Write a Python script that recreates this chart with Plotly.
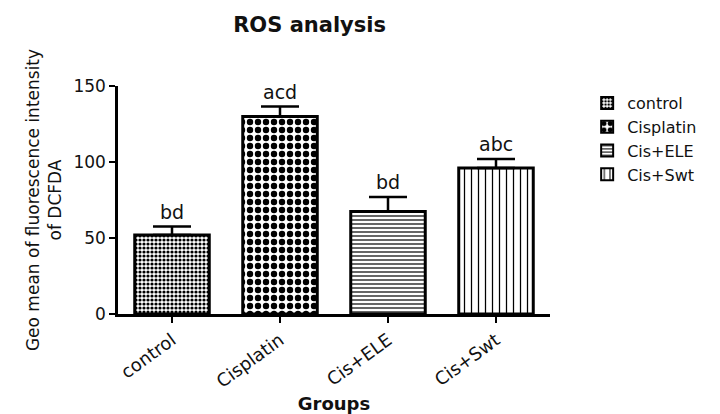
import plotly.graph_objects as go

# ROS analysis: geometric mean of DCFDA fluorescence per group
groups = ["control", "Cisplatin", "Cis+ELE", "Cis+Swt"]
geo_mean = [52, 130, 67.5, 96]
sem = [5.5, 6.5, 9.5, 6]
sig_letters = ["bd", "acd", "bd", "abc"]

# fill pattern per group (shape, cell size, solidity)
pattern_shape = [".", ".", "-", "|"]
pattern_size = [4, 8, 4, 7]
pattern_solidity = [0.5, 0.5, 0.3, 0.18]

FONT = "DejaVu Sans, Arial, sans-serif"
INK = "#111"

fig = go.Figure()
for i, g in enumerate(groups):
    fig.add_trace(go.Bar(
        x=[g], y=[geo_mean[i]], name=g,
        width=0.69,
        marker=dict(
            color="white",
            line=dict(color="black", width=3),
            pattern=dict(shape=pattern_shape[i], size=pattern_size[i],
                         solidity=pattern_solidity[i],
                         fgcolor="black", bgcolor="white", fillmode="replace"),
        ),
        error_y=dict(type="data", array=[sem[i]], arrayminus=[0],
                     symmetric=False, color="black", thickness=2.5, width=19),
    ))
    fig.add_annotation(x=g, y=geo_mean[i] + sem[i], text=sig_letters[i],
                       showarrow=False, yanchor="bottom", yshift=2,
                       font=dict(family=FONT, size=19, color=INK))

fig.update_layout(
    width=720, height=414,
    margin=dict(l=118, r=170, t=86, b=100, autoexpand=False),
    paper_bgcolor="white", plot_bgcolor="white",
    barmode="overlay",
    font=dict(family=FONT, color=INK),
    title=dict(text="<b>ROS analysis</b>", x=0.43, xanchor="center",
               y=0.94, yanchor="middle",
               font=dict(family=FONT, size=21, color=INK)),
    legend=dict(x=1.086, xanchor="left", y=1.0, yanchor="top",
                font=dict(family=FONT, size=16, color=INK),
                tracegroupgap=0, itemsizing="constant"),
    showlegend=True,
)
fig.update_xaxes(
    type="category", categoryorder="array", categoryarray=groups,
    automargin=False,
    showline=True, linecolor="black", linewidth=2.5,
    ticks="outside", ticklen=6, tickwidth=2, tickcolor="black",
    tickangle=-36, tickfont=dict(family=FONT, size=18, color=INK),
    title=dict(text="<b>Groups</b>", standoff=10,
               font=dict(family=FONT, size=18, color=INK)),
    showgrid=False, zeroline=False,
)
fig.update_yaxes(
    range=[0, 150], tickvals=[0, 50, 100, 150],
    automargin=False,
    showline=True, linecolor="black", linewidth=2.5,
    ticks="outside", ticklen=6, tickwidth=2, tickcolor="black",
    tickfont=dict(family=FONT, size=17, color=INK),
    title=dict(text="Geo mean of fluorescence intensity<br>of DCFDA",
               standoff=8, font=dict(family=FONT, size=17, color=INK)),
    showgrid=False, zeroline=False,
)

fig.write_html("out.html")
